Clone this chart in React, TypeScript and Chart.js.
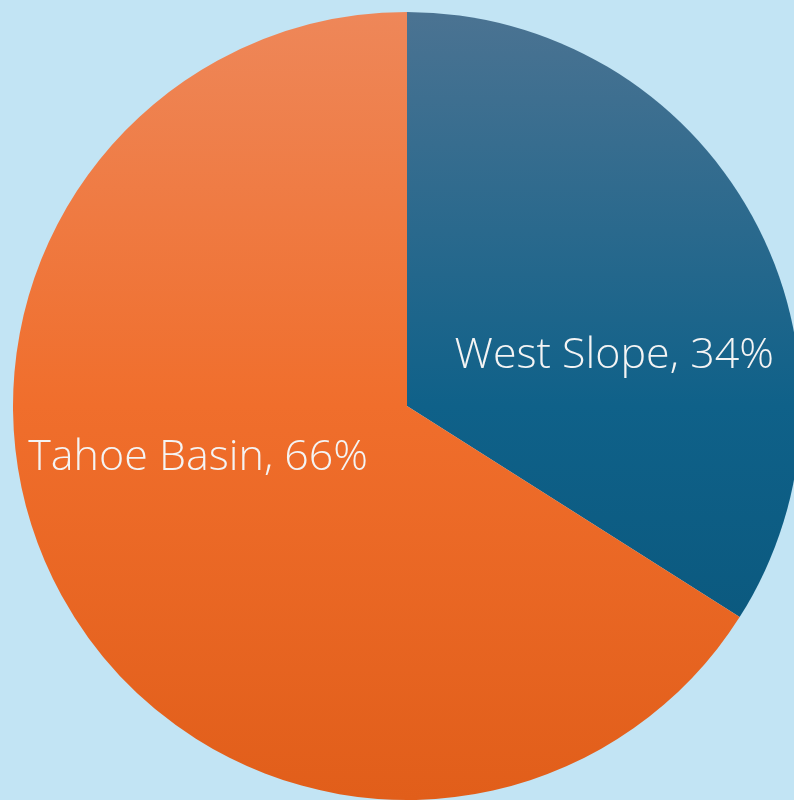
import React, { useEffect, useRef } from "react";
import { Chart, registerables } from "chart.js";
Chart.register(...registerables);

const categories = ["West Slope", "Tahoe Basin"];
const values = [34, 66];
const labelOffsets = [[0.526, -0.128], [-0.53, 0.132]];
const gradTop = ["#4B7392", "#EE8759"];
const gradMid = ["#0F6189", "#F06E2C"];
const gradBot = ["#085377", "#E15E1A"];

const labelPlugin = {
  id: "pieLabels",
  afterDatasetsDraw(chart: any) {
    const { ctx } = chart;
    const meta = chart.getDatasetMeta(0);
    meta.data.forEach((arc: any, i: number) => {
      const r = arc.outerRadius;
      const x = arc.x + labelOffsets[i][0] * r;
      const y = arc.y + labelOffsets[i][1] * r;
      ctx.save();
      ctx.fillStyle = "#F4F4F4";
      ctx.font = "300 43px 'Open Sans'";
      ctx.textAlign = "center";
      ctx.textBaseline = "middle";
      ctx.fillText(`${categories[i]}, ${values[i]}%`, x, y);
      ctx.restore();
    });
  },
};

export default function App() {
  const ref = useRef<HTMLCanvasElement>(null);
  useEffect(() => {
    document.body.style.margin = "0";
    const canvas = ref.current!;
    const chart = new Chart(canvas, {
      type: "pie",
      data: {
        labels: categories,
        datasets: [
          {
            data: values,
            borderWidth: 0,
            backgroundColor: (c: any) => {
              const ch = c.chart;
              const area = ch.chartArea;
              if (!area) return gradMid[c.dataIndex];
              const g = ch.ctx.createLinearGradient(0, area.top, 0, area.bottom);
              g.addColorStop(0, gradTop[c.dataIndex]);
              g.addColorStop(0.5, gradMid[c.dataIndex]);
              g.addColorStop(1, gradBot[c.dataIndex]);
              return g;
            },
          },
        ],
      },
      options: {
        animation: false,
        responsive: false,
        layout: { padding: 12 },
        plugins: { legend: { display: false }, tooltip: { enabled: false } },
      },
      plugins: [labelPlugin],
    });
    return () => chart.destroy();
  }, []);
  return (
    <div style={{ position: "fixed", left: 0, top: 0, width: 794, height: 800, overflow: "hidden", background: "#C2E4F4" }}>
      <canvas ref={ref} width={814} height={812} style={{ display: "block", width: 814, height: 812 }} />
    </div>
  );
}
